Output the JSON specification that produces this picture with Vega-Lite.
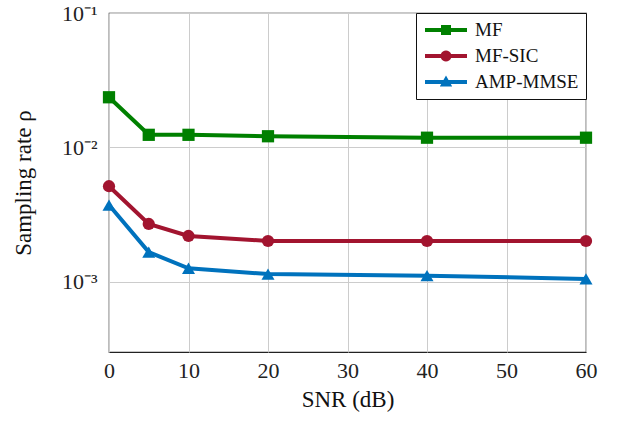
{
  "$schema": "https://vega.github.io/schema/vega-lite/v6.json",
  "width": 477,
  "height": 339,
  "autosize": "none",
  "padding": {"left": 109, "top": 13, "right": 33, "bottom": 70},
  "background": "white",
  "config": {
    "view": {"stroke": "#222222", "strokeWidth": 1.2},
    "font": "Liberation Serif",
    "axis": {
      "labelFont": "Liberation Serif",
      "titleFont": "Liberation Serif",
      "labelFontSize": 22,
      "titleFontSize": 23,
      "titleFontWeight": "normal",
      "labelColor": "#222222",
      "titleColor": "#111111",
      "gridColor": "#cccccc",
      "gridWidth": 1,
      "domain": false,
      "ticks": false
    },
    "legend": {
      "labelFont": "Liberation Serif",
      "labelFontWeight": "normal"
    }
  },
  "data": {
    "values": [
      {"snr": 0, "rate": 0.0236, "method": "MF"},
      {"snr": 5, "rate": 0.0124, "method": "MF"},
      {"snr": 10, "rate": 0.0124, "method": "MF"},
      {"snr": 20, "rate": 0.0121, "method": "MF"},
      {"snr": 40, "rate": 0.0118, "method": "MF"},
      {"snr": 60, "rate": 0.0118, "method": "MF"},
      {"snr": 0, "rate": 0.00514, "method": "MF-SIC"},
      {"snr": 5, "rate": 0.00269, "method": "MF-SIC"},
      {"snr": 10, "rate": 0.00219, "method": "MF-SIC"},
      {"snr": 20, "rate": 0.00201, "method": "MF-SIC"},
      {"snr": 40, "rate": 0.00201, "method": "MF-SIC"},
      {"snr": 60, "rate": 0.00201, "method": "MF-SIC"},
      {"snr": 0, "rate": 0.00372, "method": "AMP-MMSE"},
      {"snr": 5, "rate": 0.00166, "method": "AMP-MMSE"},
      {"snr": 10, "rate": 0.00126, "method": "AMP-MMSE"},
      {"snr": 20, "rate": 0.00114, "method": "AMP-MMSE"},
      {"snr": 40, "rate": 0.00111, "method": "AMP-MMSE"},
      {"snr": 60, "rate": 0.00105, "method": "AMP-MMSE"}
    ]
  },
  "encoding": {
    "x": {
      "field": "snr", "type": "quantitative",
      "scale": {"domain": [0, 60], "nice": false},
      "axis": {"values": [0, 10, 20, 30, 40, 50, 60], "title": "SNR (dB)", "labelPadding": 8, "titlePadding": 7, "labelFlush": false}
    },
    "y": {
      "field": "rate", "type": "quantitative",
      "scale": {"type": "log", "domain": [0.0003, 0.1], "nice": false},
      "axis": {
        "values": [0.001, 0.01, 0.1],
        "labelExpr": "datum.value > 0.05 ? '10⁻¹' : datum.value > 0.005 ? '10⁻²' : '10⁻³'",
        "title": "Sampling rate ρ",
        "labelPadding": 12,
        "titlePadding": 26,
        "labelFlush": false
      }
    },
    "color": {
      "field": "method", "type": "nominal",
      "scale": {"domain": ["MF", "MF-SIC", "AMP-MMSE"], "range": ["#008000", "#A2142F", "#0072BD"]},
      "legend": {
        "title": null,
        "orient": "top-right",
        "offset": 0,
        "padding": 7,
        "strokeColor": "#111111",
        "fillColor": "white",
        "cornerRadius": 0,
        "labelFont": "Liberation Serif",
        "labelFontWeight": "normal",
        "labelFontSize": 19,
        "labelColor": "#111111",
        "labelOffset": 32,
        "rowPadding": 6,
        "symbolSize": 400,
        "symbolStrokeWidth": 0,
        "encode": {
          "labels": {
            "update": {
              "font": {"value": "Liberation Serif"},
              "fontWeight": {"value": "normal"}
            }
          },
          "symbols": {
            "update": {
              "shape": {"signal": "datum.value === 'MF' ? 'M-0.8,-0.2H0.8V-0.5H1.8V-0.2H3.4V0.2H1.8V0.5H0.8V0.2H-0.8Z' : datum.value === 'MF-SIC' ? 'M-0.8,-0.2H0.788A0.55,0.55 0 0 1 1.812,-0.2H3.4V0.2H1.812A0.55,0.55 0 0 1 0.788,0.2H-0.8Z' : 'M-0.8,-0.2H1.046L1.3,-0.65L1.554,-0.2H3.4V0.2H1.779L1.92,0.45H0.68L0.821,0.2H-0.8Z'"},
              "fill": {"signal": "datum.value === 'MF' ? '#008000' : datum.value === 'MF-SIC' ? '#A2142F' : '#0072BD'"},
              "fillOpacity": {"value": 1},
              "strokeWidth": {"value": 0},
              "opacity": {"value": 1}
            }
          }
        }
      }
    }
  },
  "layer": [
    {
      "mark": {"type": "line", "strokeWidth": 4},
      "encoding": {"detail": {"field": "method"}}
    },
    {
      "transform": [{"filter": "datum.method === 'MF'"}],
      "mark": {"type": "point", "filled": true, "opacity": 1, "size": 150, "shape": "square"}
    },
    {
      "transform": [{"filter": "datum.method === 'MF-SIC'"}],
      "mark": {"type": "point", "filled": true, "opacity": 1, "size": 150, "shape": "circle"}
    },
    {
      "transform": [{"filter": "datum.method === 'AMP-MMSE'"}],
      "mark": {"type": "point", "filled": true, "opacity": 1, "size": 170, "shape": "triangle-up"}
    }
  ]
}
